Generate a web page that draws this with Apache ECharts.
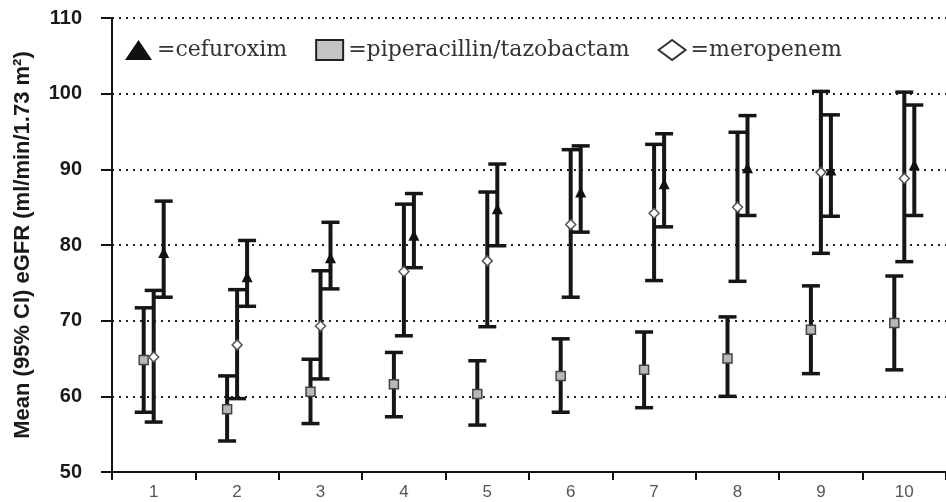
<!DOCTYPE html>
<html><head><meta charset="utf-8">
<script src="https://cdn.jsdelivr.net/npm/echarts@6/dist/echarts.min.js"></script>
<style>html,body{margin:0;padding:0;background:#fff}#c{width:946px;height:502px}</style>
</head><body><div id="c"></div>
<script>
const categories = ['1','2','3','4','5','6','7','8','9','10'];
const seriesNames = ['cefuroxim','piperacillin/tazobactam','meropenem'];
const yAxisTitle = 'Mean (95% CI) eGFR (ml/min/1.73 m\u00B2)';

const cefMean = [79.0,75.8,78.3,81.3,84.8,87.0,88.1,90.2,89.9,90.6];
const cefLow  = [73.1,71.9,74.2,77.0,79.9,81.7,82.4,83.9,83.8,83.9];
const cefHigh = [85.8,80.6,83.0,86.8,90.7,93.1,94.7,97.1,97.2,98.5];

const pipMean = [64.8,58.3,60.6,61.6,60.3,62.7,63.5,65.0,68.8,69.7];
const pipLow  = [57.9,54.1,56.4,57.3,56.2,57.9,58.5,60.0,63.0,63.5];
const pipHigh = [71.7,62.7,64.9,65.8,64.7,67.6,68.5,70.5,74.6,75.9];

const merMean = [65.2,66.8,69.3,76.5,77.9,82.7,84.2,85.0,89.6,88.8];
const merLow  = [56.6,59.7,62.3,68.0,69.2,73.1,75.3,75.2,78.9,77.8];
const merHigh = [74.0,74.1,76.6,85.4,87.0,92.6,93.3,94.9,100.3,100.2];

const OFF = {cef: 10, pip: -10, mer: 0};

function ranges(lo, hi){ return lo.map((v,i)=>[i, v, hi[i]]); }

function errRender(offset){
  return function(params, api){
    const i = api.value(0);
    const lo = api.coord([i, api.value(1)]);
    const hi = api.coord([i, api.value(2)]);
    const x = lo[0] + offset;
    const half = 9;
    const c = '#161616';
    return {type:'group', children:[
      {type:'line', shape:{x1:x,y1:lo[1],x2:x,y2:hi[1]}, style:{stroke:c,lineWidth:4}},
      {type:'line', shape:{x1:x-half,y1:hi[1],x2:x+half,y2:hi[1]}, style:{stroke:c,lineWidth:3.5}},
      {type:'line', shape:{x1:x-half,y1:lo[1],x2:x+half,y2:lo[1]}, style:{stroke:c,lineWidth:3.5}}
    ]};
  };
}

const chart = echarts.init(document.getElementById('c'), null, {renderer:'canvas'});
chart.setOption({
  animation:false,
  backgroundColor:'#fff',
  grid:{left:112, right:0, top:18, bottom:30},
  legend:{
    left:125, top:39, padding:0, itemWidth:27, itemHeight:20, itemGap:28,
    formatter:'={name}',
    textStyle:{fontFamily:'DejaVu Serif', fontSize:22, color:'#333'},
    data:[
      {name:seriesNames[0], icon:'triangle', itemStyle:{color:'#111', borderWidth:0}},
      {name:seriesNames[1], icon:'rect', itemStyle:{color:'#c4c4c4', borderColor:'#222', borderWidth:2}},
      {name:seriesNames[2], icon:'diamond', itemStyle:{color:'#fff', borderColor:'#333', borderWidth:2}}
    ]
  },
  xAxis:{
    type:'category', data:categories, boundaryGap:true,
    axisLine:{lineStyle:{color:'#111', width:2}},
    axisTick:{show:true, length:8, interval:0, lineStyle:{color:'#111', width:2}},
    axisLabel:{fontFamily:'Liberation Sans', fontSize:17, color:'#555', margin:12}
  },
  yAxis:{
    type:'value', min:50, max:110, interval:10,
    axisLine:{show:true, lineStyle:{color:'#111', width:2}},
    axisTick:{show:true, length:11, lineStyle:{color:'#111', width:2}},
    axisLabel:{fontFamily:'Liberation Sans', fontWeight:'bold', fontSize:20, color:'#1a1a1a', margin:30},
    splitLine:{show:true, lineStyle:{color:'#222', width:2, type:[2,5]}}
  },
  graphic:[{
    type:'text', x:23, y:245, rotation:Math.PI/2,
    style:{text:yAxisTitle, align:'center', verticalAlign:'middle',
      font:'bold 22px "Liberation Sans"', fill:'#1a1a1a'}
  }],
  series:[
    {type:'custom', z:2, renderItem:errRender(OFF.pip), encode:{x:0, y:[1,2]}, data:ranges(pipLow,pipHigh), silent:true},
    {type:'custom', z:2, renderItem:errRender(OFF.mer), encode:{x:0, y:[1,2]}, data:ranges(merLow,merHigh), silent:true},
    {type:'custom', z:2, renderItem:errRender(OFF.cef), encode:{x:0, y:[1,2]}, data:ranges(cefLow,cefHigh), silent:true},
    {name:seriesNames[1], type:'scatter', z:5, symbol:'rect', symbolSize:9, symbolOffset:[OFF.pip,0],
      itemStyle:{color:'#b8b8b8', borderColor:'#444', borderWidth:1.5, opacity:1}, data:pipMean},
    {name:seriesNames[2], type:'scatter', z:5, symbol:'diamond', symbolSize:10, symbolOffset:[OFF.mer,0],
      itemStyle:{color:'#fff', borderColor:'#555', borderWidth:1.5, opacity:1}, data:merMean},
    {name:seriesNames[0], type:'scatter', z:5, symbol:'triangle', symbolSize:11, symbolOffset:[OFF.cef,0],
      itemStyle:{color:'#111', opacity:1}, data:cefMean}
  ]
});
</script>
</body></html>
